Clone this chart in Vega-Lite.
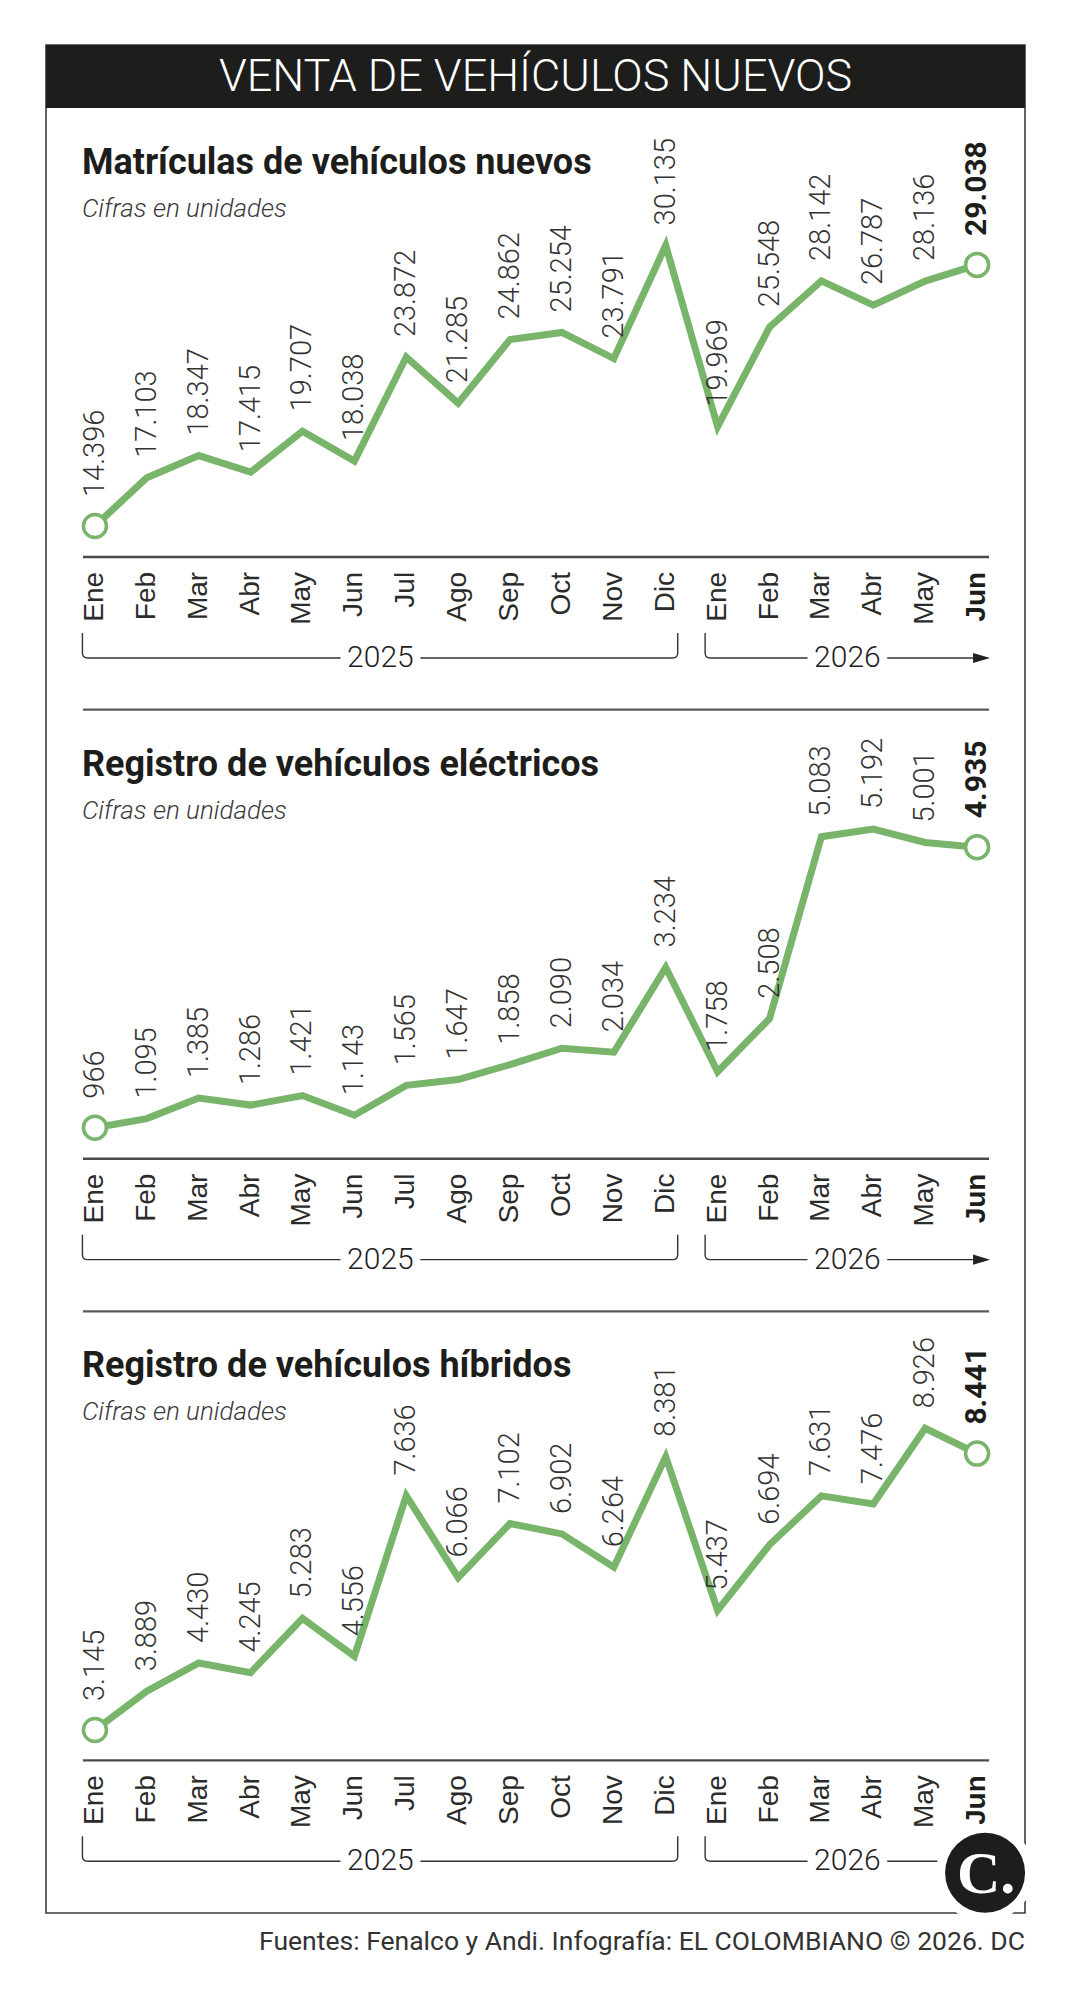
{
  "$schema": "https://vega.github.io/schema/vega-lite/v6.json",
  "width": 979,
  "height": 1868,
  "autosize": "none",
  "padding": {"left": 46, "top": 45, "right": 49, "bottom": 87},
  "background": "#ffffff",
  "config": {
    "view": {"stroke": "#3d3d3d", "strokeWidth": 1.6},
    "locale": {"number": {"decimal": ",", "thousands": ".", "grouping": [3], "currency": ["$", ""]}}
  },
  "title": {
    "text": "Fuentes: Fenalco y Andi. Infografía: EL COLOMBIANO © 2026. DC",
    "orient": "bottom",
    "anchor": "end",
    "frame": "group",
    "offset": 7,
    "baseline": "top",
    "font": "Roboto",
    "fontSize": 26.5,
    "fontWeight": 400,
    "color": "#333333"
  },
  "datasets": {
    "ventas": [
      {"mes": "2025-01", "nombre": "Ene", "matriculas": 14396, "electricos": 966, "hibridos": 3145},
      {"mes": "2025-02", "nombre": "Feb", "matriculas": 17103, "electricos": 1095, "hibridos": 3889},
      {"mes": "2025-03", "nombre": "Mar", "matriculas": 18347, "electricos": 1385, "hibridos": 4430},
      {"mes": "2025-04", "nombre": "Abr", "matriculas": 17415, "electricos": 1286, "hibridos": 4245},
      {"mes": "2025-05", "nombre": "May", "matriculas": 19707, "electricos": 1421, "hibridos": 5283},
      {"mes": "2025-06", "nombre": "Jun", "matriculas": 18038, "electricos": 1143, "hibridos": 4556},
      {"mes": "2025-07", "nombre": "Jul", "matriculas": 23872, "electricos": 1565, "hibridos": 7636},
      {"mes": "2025-08", "nombre": "Ago", "matriculas": 21285, "electricos": 1647, "hibridos": 6066},
      {"mes": "2025-09", "nombre": "Sep", "matriculas": 24862, "electricos": 1858, "hibridos": 7102},
      {"mes": "2025-10", "nombre": "Oct", "matriculas": 25254, "electricos": 2090, "hibridos": 6902},
      {"mes": "2025-11", "nombre": "Nov", "matriculas": 23791, "electricos": 2034, "hibridos": 6264},
      {"mes": "2025-12", "nombre": "Dic", "matriculas": 30135, "electricos": 3234, "hibridos": 8381},
      {"mes": "2026-01", "nombre": "Ene", "matriculas": 19969, "electricos": 1758, "hibridos": 5437},
      {"mes": "2026-02", "nombre": "Feb", "matriculas": 25548, "electricos": 2508, "hibridos": 6694},
      {"mes": "2026-03", "nombre": "Mar", "matriculas": 28142, "electricos": 5083, "hibridos": 7631},
      {"mes": "2026-04", "nombre": "Abr", "matriculas": 26787, "electricos": 5192, "hibridos": 7476},
      {"mes": "2026-05", "nombre": "May", "matriculas": 28136, "electricos": 5001, "hibridos": 8926},
      {"mes": "2026-06", "nombre": "Jun", "matriculas": 29038, "electricos": 4935, "hibridos": 8441}
    ],
    "paneles": [
      {"serie": "matriculas", "titulo": "Matrículas de vehículos nuevos", "subtitulo": "Cifras en unidades"},
      {"serie": "electricos", "titulo": "Registro de vehículos eléctricos", "subtitulo": "Cifras en unidades"},
      {"serie": "hibridos", "titulo": "Registro de vehículos híbridos", "subtitulo": "Cifras en unidades"}
    ],
    "llaves": [
      {"serie": "matriculas", "anio": "2025", "desde": "2025-01", "centro": "2025-06", "hasta": "2025-12"},
      {"serie": "matriculas", "anio": "2026", "desde": "2026-01", "centro": "2026-03", "hasta": "2026-06"},
      {"serie": "electricos", "anio": "2025", "desde": "2025-01", "centro": "2025-06", "hasta": "2025-12"},
      {"serie": "electricos", "anio": "2026", "desde": "2026-01", "centro": "2026-03", "hasta": "2026-06"},
      {"serie": "hibridos", "anio": "2025", "desde": "2025-01", "centro": "2025-06", "hasta": "2025-12"},
      {"serie": "hibridos", "anio": "2026", "desde": "2026-01", "centro": "2026-03", "hasta": "2026-06"}
    ],
    "encabezado": [{"titulo": "VENTA DE VEHÍCULOS NUEVOS"}],
    "marca": [{"logo": "C."}]
  },
  "layer": [
    {
      "data": {"name": "encabezado"},
      "encoding": {
        "y": {"field": "titulo", "type": "nominal", "axis": null,
              "scale": {"type": "band", "range": [0, 63], "paddingInner": 0, "paddingOuter": 0}}
      },
      "layer": [
        {"mark": {"type": "rect", "color": "#1d1d1b"}},
        {"mark": {"type": "text", "color": "#ffffff", "font": "Roboto", "fontWeight": 300, "fontSize": 45, "align": "center", "baseline": "middle"},
         "encoding": {"text": {"field": "titulo"}}}
      ]
    },
    {
      "data": {"name": "ventas"},
      "encoding": {
        "x": {"field": "mes", "type": "ordinal", "axis": null, "scale": {"type": "point", "range": [37, 943], "padding": 0.23}},
        "y": {"field": "matriculas", "type": "quantitative", "axis": null,
              "scale": {"domain": [14396, 30135], "range": [481, 200.4], "zero": false, "nice": false}}
      },
      "layer": [
        {"mark": {"type": "line", "color": "#79b46b", "strokeWidth": 7, "strokeJoin": "miter"}},
        {"transform": [{"filter": "datum.mes === '2025-01' || datum.mes === '2026-06'"}],
         "mark": {"type": "point", "shape": "circle", "filled": true, "fill": "#ffffff", "stroke": "#79b46b", "strokeWidth": 3.5, "size": 529, "opacity": 1}},
        {"transform": [{"filter": "datum.mes !== '2025-01' && datum.mes !== '2026-06'"}],
         "mark": {"type": "text", "angle": 270, "align": "left", "baseline": "middle", "dx": 20, "font": "Roboto", "fontWeight": 300, "fontSize": 29, "color": "#333333"},
         "encoding": {"text": {"field": "matriculas", "type": "quantitative", "format": ",d"}}},
        {"transform": [{"filter": "datum.mes === '2025-01'"}],
         "mark": {"type": "text", "angle": 270, "align": "left", "baseline": "middle", "dx": 29, "font": "Roboto", "fontWeight": 300, "fontSize": 29, "color": "#333333"},
         "encoding": {"text": {"field": "matriculas", "type": "quantitative", "format": ",d"}}},
        {"transform": [{"filter": "datum.mes === '2026-06'"}],
         "mark": {"type": "text", "angle": 270, "align": "left", "baseline": "middle", "dx": 29, "font": "Roboto", "fontWeight": 700, "fontSize": 30, "color": "#1d1d1b"},
         "encoding": {"text": {"field": "matriculas", "type": "quantitative", "format": ",d"}}}
      ]
    },
    {
      "data": {"name": "ventas"},
      "encoding": {
        "x": {"field": "mes", "type": "ordinal", "axis": null, "scale": {"type": "point", "range": [37, 943], "padding": 0.23}},
        "y": {"field": "electricos", "type": "quantitative", "axis": null,
              "scale": {"domain": [966, 5192], "range": [1082.7, 784], "zero": false, "nice": false}}
      },
      "layer": [
        {"mark": {"type": "line", "color": "#79b46b", "strokeWidth": 7, "strokeJoin": "miter"}},
        {"transform": [{"filter": "datum.mes === '2025-01' || datum.mes === '2026-06'"}],
         "mark": {"type": "point", "shape": "circle", "filled": true, "fill": "#ffffff", "stroke": "#79b46b", "strokeWidth": 3.5, "size": 529, "opacity": 1}},
        {"transform": [{"filter": "datum.mes !== '2025-01' && datum.mes !== '2026-06'"}],
         "mark": {"type": "text", "angle": 270, "align": "left", "baseline": "middle", "dx": 20, "font": "Roboto", "fontWeight": 300, "fontSize": 29, "color": "#333333"},
         "encoding": {"text": {"field": "electricos", "type": "quantitative", "format": ",d"}}},
        {"transform": [{"filter": "datum.mes === '2025-01'"}],
         "mark": {"type": "text", "angle": 270, "align": "left", "baseline": "middle", "dx": 29, "font": "Roboto", "fontWeight": 300, "fontSize": 29, "color": "#333333"},
         "encoding": {"text": {"field": "electricos", "type": "quantitative", "format": ",d"}}},
        {"transform": [{"filter": "datum.mes === '2026-06'"}],
         "mark": {"type": "text", "angle": 270, "align": "left", "baseline": "middle", "dx": 29, "font": "Roboto", "fontWeight": 700, "fontSize": 30, "color": "#1d1d1b"},
         "encoding": {"text": {"field": "electricos", "type": "quantitative", "format": ",d"}}}
      ]
    },
    {
      "data": {"name": "ventas"},
      "encoding": {
        "x": {"field": "mes", "type": "ordinal", "axis": null, "scale": {"type": "point", "range": [37, 943], "padding": 0.23}},
        "y": {"field": "hibridos", "type": "quantitative", "axis": null,
              "scale": {"domain": [3145, 8926], "range": [1685, 1383.3], "zero": false, "nice": false}}
      },
      "layer": [
        {"mark": {"type": "line", "color": "#79b46b", "strokeWidth": 7, "strokeJoin": "miter"}},
        {"transform": [{"filter": "datum.mes === '2025-01' || datum.mes === '2026-06'"}],
         "mark": {"type": "point", "shape": "circle", "filled": true, "fill": "#ffffff", "stroke": "#79b46b", "strokeWidth": 3.5, "size": 529, "opacity": 1}},
        {"transform": [{"filter": "datum.mes !== '2025-01' && datum.mes !== '2026-06'"}],
         "mark": {"type": "text", "angle": 270, "align": "left", "baseline": "middle", "dx": 20, "font": "Roboto", "fontWeight": 300, "fontSize": 29, "color": "#333333"},
         "encoding": {"text": {"field": "hibridos", "type": "quantitative", "format": ",d"}}},
        {"transform": [{"filter": "datum.mes === '2025-01'"}],
         "mark": {"type": "text", "angle": 270, "align": "left", "baseline": "middle", "dx": 29, "font": "Roboto", "fontWeight": 300, "fontSize": 29, "color": "#333333"},
         "encoding": {"text": {"field": "hibridos", "type": "quantitative", "format": ",d"}}},
        {"transform": [{"filter": "datum.mes === '2026-06'"}],
         "mark": {"type": "text", "angle": 270, "align": "left", "baseline": "middle", "dx": 29, "font": "Roboto", "fontWeight": 700, "fontSize": 30, "color": "#1d1d1b"},
         "encoding": {"text": {"field": "hibridos", "type": "quantitative", "format": ",d"}}}
      ]
    },
    {
      "layer": [
        {
          "data": {"name": "paneles"},
          "mark": {"type": "text", "align": "left", "baseline": "alphabetic", "xOffset": -13, "font": "Roboto", "fontWeight": 700, "fontSize": 36, "color": "#1d1d1b"},
          "encoding": {
            "x": {"datum": "2025-01", "type": "ordinal", "axis": null, "scale": {"type": "point", "range": [37, 943], "padding": 0.23}},
            "y": {"field": "serie", "type": "nominal", "axis": null, "bandPosition": 0.1097,
                  "scale": {"type": "band", "domain": ["matriculas", "electricos", "hibridos"], "range": [63, 1868], "paddingInner": 0, "paddingOuter": 0}},
            "text": {"field": "titulo"}
          }
        },
        {
          "data": {"name": "paneles"},
          "mark": {"type": "text", "align": "left", "baseline": "alphabetic", "xOffset": -13, "font": "Roboto", "fontStyle": "italic", "fontWeight": 300, "fontSize": 26, "color": "#3a3a3a"},
          "encoding": {
            "x": {"datum": "2025-01", "type": "ordinal", "axis": null, "scale": {"type": "point", "range": [37, 943], "padding": 0.23}},
            "y": {"field": "serie", "type": "nominal", "axis": null, "bandPosition": 0.1812,
                  "scale": {"type": "band", "domain": ["matriculas", "electricos", "hibridos"], "range": [63, 1868], "paddingInner": 0, "paddingOuter": 0}},
            "text": {"field": "subtitulo"}
          }
        },
        {
          "data": {"name": "paneles"},
          "mark": {"type": "rule", "xOffset": -12, "x2Offset": 12, "color": "#4a4a4a", "strokeWidth": 2.4},
          "encoding": {
            "x": {"datum": "2025-01", "type": "ordinal", "axis": null, "scale": {"type": "point", "range": [37, 943], "padding": 0.23}},
            "x2": {"datum": "2026-06"},
            "y": {"field": "serie", "type": "nominal", "axis": null, "bandPosition": 0.7463,
                  "scale": {"type": "band", "domain": ["matriculas", "electricos", "hibridos"], "range": [63, 1868], "paddingInner": 0, "paddingOuter": 0}}
          }
        },
        {
          "data": {"name": "paneles"},
          "transform": [{"filter": "datum.serie !== 'hibridos'"}],
          "mark": {"type": "rule", "xOffset": -12, "x2Offset": 12, "color": "#5a5a5a", "strokeWidth": 2.2},
          "encoding": {
            "x": {"datum": "2025-01", "type": "ordinal", "axis": null, "scale": {"type": "point", "range": [37, 943], "padding": 0.23}},
            "x2": {"datum": "2026-06"},
            "y": {"field": "serie", "type": "nominal", "axis": null, "bandPosition": 1,
                  "scale": {"type": "band", "domain": ["matriculas", "electricos", "hibridos"], "range": [63, 1868], "paddingInner": 0, "paddingOuter": 0}}
          }
        },
        {
          "data": {"name": "ventas"},
          "transform": [
            {"fold": ["matriculas", "electricos", "hibridos"], "as": ["serie", "valor"]},
            {"filter": "datum.mes !== '2026-06'"}
          ],
          "mark": {"type": "text", "angle": 270, "align": "right", "baseline": "middle", "font": "Liberation Sans", "fontSize": 28, "color": "#2b2b2b"},
          "encoding": {
            "x": {"field": "mes", "type": "ordinal", "axis": null, "scale": {"type": "point", "range": [37, 943], "padding": 0.23}},
            "y": {"field": "serie", "type": "nominal", "axis": null, "bandPosition": 0.771,
                  "scale": {"type": "band", "domain": ["matriculas", "electricos", "hibridos"], "range": [63, 1868], "paddingInner": 0, "paddingOuter": 0}},
            "text": {"field": "nombre"}
          }
        },
        {
          "data": {"name": "ventas"},
          "transform": [
            {"fold": ["matriculas", "electricos", "hibridos"], "as": ["serie", "valor"]},
            {"filter": "datum.mes === '2026-06'"}
          ],
          "mark": {"type": "text", "angle": 270, "align": "right", "baseline": "middle", "font": "Liberation Sans", "fontWeight": "bold", "fontSize": 28, "color": "#1d1d1b"},
          "encoding": {
            "x": {"field": "mes", "type": "ordinal", "axis": null, "scale": {"type": "point", "range": [37, 943], "padding": 0.23}},
            "y": {"field": "serie", "type": "nominal", "axis": null, "bandPosition": 0.771,
                  "scale": {"type": "band", "domain": ["matriculas", "electricos", "hibridos"], "range": [63, 1868], "paddingInner": 0, "paddingOuter": 0}},
            "text": {"field": "nombre"}
          }
        },
        {
          "data": {"name": "llaves"},
          "transform": [{"filter": "datum.anio === '2025'"}],
          "mark": {"type": "rule", "xOffset": -7.5, "x2Offset": 7, "color": "#333333", "strokeWidth": 1.4},
          "encoding": {
            "x": {"field": "desde", "type": "ordinal", "axis": null, "scale": {"type": "point", "range": [37, 943], "padding": 0.23}},
            "x2": {"field": "hasta"},
            "y": {"field": "serie", "type": "nominal", "axis": null, "bandPosition": 0.9141,
                  "scale": {"type": "band", "domain": ["matriculas", "electricos", "hibridos"], "range": [63, 1868], "paddingInner": 0, "paddingOuter": 0}}
          }
        },
        {
          "data": {"name": "llaves"},
          "transform": [{"filter": "datum.anio === '2026'"}],
          "mark": {"type": "rule", "xOffset": -7.5, "x2Offset": 6, "color": "#333333", "strokeWidth": 1.4},
          "encoding": {
            "x": {"field": "desde", "type": "ordinal", "axis": null, "scale": {"type": "point", "range": [37, 943], "padding": 0.23}},
            "x2": {"field": "hasta"},
            "y": {"field": "serie", "type": "nominal", "axis": null, "bandPosition": 0.9141,
                  "scale": {"type": "band", "domain": ["matriculas", "electricos", "hibridos"], "range": [63, 1868], "paddingInner": 0, "paddingOuter": 0}}
          }
        },
        {
          "data": {"name": "llaves"},
          "mark": {"type": "point", "shape": "M 0 -1 L 0 0.6 Q 0 1 0.42 1", "size": 625, "filled": false, "xOffset": -12.5, "color": "#333333", "strokeWidth": 1.4, "opacity": 1},
          "encoding": {
            "x": {"field": "desde", "type": "ordinal", "axis": null, "scale": {"type": "point", "range": [37, 943], "padding": 0.23}},
            "y": {"field": "serie", "type": "nominal", "axis": null, "bandPosition": 0.8933,
                  "scale": {"type": "band", "domain": ["matriculas", "electricos", "hibridos"], "range": [63, 1868], "paddingInner": 0, "paddingOuter": 0}}
          }
        },
        {
          "data": {"name": "llaves"},
          "transform": [{"filter": "datum.anio === '2025'"}],
          "mark": {"type": "point", "shape": "M 0 -1 L 0 0.6 Q 0 1 -0.42 1", "size": 625, "filled": false, "xOffset": 12, "color": "#333333", "strokeWidth": 1.4, "opacity": 1},
          "encoding": {
            "x": {"field": "hasta", "type": "ordinal", "axis": null, "scale": {"type": "point", "range": [37, 943], "padding": 0.23}},
            "y": {"field": "serie", "type": "nominal", "axis": null, "bandPosition": 0.8933,
                  "scale": {"type": "band", "domain": ["matriculas", "electricos", "hibridos"], "range": [63, 1868], "paddingInner": 0, "paddingOuter": 0}}
          }
        },
        {
          "data": {"name": "llaves"},
          "transform": [{"filter": "datum.anio === '2026'"}],
          "mark": {"type": "point", "shape": "M -1 -0.6 L 1 0 L -1 0.6 Z", "size": 289, "filled": true, "xOffset": 4.5, "color": "#222222", "opacity": 1},
          "encoding": {
            "x": {"field": "hasta", "type": "ordinal", "axis": null, "scale": {"type": "point", "range": [37, 943], "padding": 0.23}},
            "y": {"field": "serie", "type": "nominal", "axis": null, "bandPosition": 0.9141,
                  "scale": {"type": "band", "domain": ["matriculas", "electricos", "hibridos"], "range": [63, 1868], "paddingInner": 0, "paddingOuter": 0}}
          }
        },
        {
          "data": {"name": "llaves"},
          "mark": {"type": "text", "align": "center", "baseline": "middle", "xOffset": 26, "font": "Roboto", "fontWeight": 300, "fontSize": 30, "fill": "#ffffff", "stroke": "#ffffff", "strokeWidth": 16},
          "encoding": {
            "x": {"field": "centro", "type": "ordinal", "axis": null, "scale": {"type": "point", "range": [37, 943], "padding": 0.23}},
            "y": {"field": "serie", "type": "nominal", "axis": null, "bandPosition": 0.9141,
                  "scale": {"type": "band", "domain": ["matriculas", "electricos", "hibridos"], "range": [63, 1868], "paddingInner": 0, "paddingOuter": 0}},
            "text": {"field": "anio"}
          }
        },
        {
          "data": {"name": "llaves"},
          "mark": {"type": "text", "align": "center", "baseline": "middle", "xOffset": 26, "font": "Roboto", "fontWeight": 300, "fontSize": 30, "color": "#222222"},
          "encoding": {
            "x": {"field": "centro", "type": "ordinal", "axis": null, "scale": {"type": "point", "range": [37, 943], "padding": 0.23}},
            "y": {"field": "serie", "type": "nominal", "axis": null, "bandPosition": 0.9141,
                  "scale": {"type": "band", "domain": ["matriculas", "electricos", "hibridos"], "range": [63, 1868], "paddingInner": 0, "paddingOuter": 0}},
            "text": {"field": "anio"}
          }
        },
        {
          "data": {"name": "marca"},
          "encoding": {
            "x": {"datum": "2026-06", "type": "ordinal", "axis": null, "scale": {"type": "point", "range": [37, 943], "padding": 0.23}},
            "y": {"datum": "hibridos", "type": "nominal", "axis": null, "bandPosition": 0.9331,
                  "scale": {"type": "band", "domain": ["matriculas", "electricos", "hibridos"], "range": [63, 1868], "paddingInner": 0, "paddingOuter": 0}}
          },
          "layer": [
            {"mark": {"type": "point", "shape": "circle", "filled": true, "size": 9604, "xOffset": 8, "color": "#ffffff", "opacity": 1}},
            {"mark": {"type": "point", "shape": "circle", "filled": true, "size": 6400, "xOffset": 8, "color": "#1d1d1b", "opacity": 1}},
            {"mark": {"type": "text", "align": "center", "baseline": "middle", "xOffset": 9, "dy": 2, "font": "Liberation Serif", "fontWeight": "bold", "fontSize": 60, "color": "#ffffff"},
             "encoding": {"text": {"field": "logo"}}}
          ]
        }
      ]
    }
  ],
  "resolve": {"scale": {"y": "independent"}}
}
